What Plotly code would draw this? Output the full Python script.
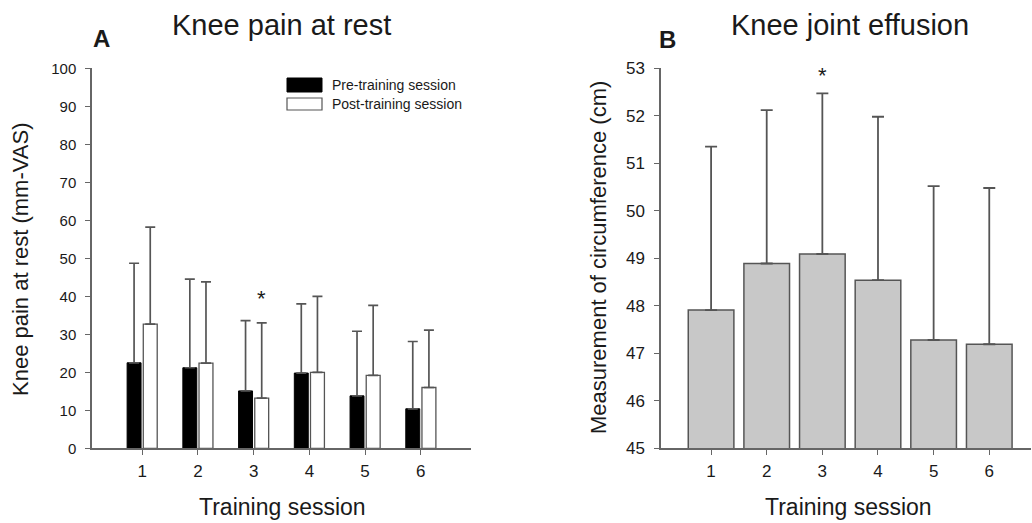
import plotly.graph_objects as go

# ---- data ----
sessions = [1, 2, 3, 4, 5, 6]
session_labels = ["1", "2", "3", "4", "5", "6"]

pain_pre = [22.5, 21.2, 15.1, 19.8, 13.8, 10.4]
pain_pre_sd = [26.2, 23.3, 18.5, 18.2, 17.0, 17.7]
pain_post = [32.7, 22.4, 13.2, 20.0, 19.2, 16.0]
pain_post_sd = [25.5, 21.4, 19.8, 20.0, 18.4, 15.1]

circ = [47.91, 48.89, 49.09, 48.54, 47.28, 47.19]
circ_sd = [3.44, 3.23, 3.38, 3.44, 3.24, 3.29]

zeros = [0] * 6

W, H = 1032, 523
FONT = "Liberation Sans, Arial, sans-serif"
AXC = "#666666"
TXT = "#1a1a1a"
ERR = "#555555"


def px(x):
    return x / W


def py(y):
    return 1 - y / H


fig = go.Figure()

fig.add_trace(go.Bar(
    x=sessions, y=pain_pre, width=0.25, offset=-0.27,
    marker=dict(color="black", line=dict(color="black", width=1)),
    error_y=dict(type="data", array=pain_pre_sd, arrayminus=zeros, symmetric=False,
                 color=ERR, thickness=1.7, width=5),
    name="Pre-training session", xaxis="x", yaxis="y", showlegend=False,
))
fig.add_trace(go.Bar(
    x=sessions, y=pain_post, width=0.25, offset=0.02,
    marker=dict(color="white", line=dict(color=ERR, width=1.3)),
    error_y=dict(type="data", array=pain_post_sd, arrayminus=zeros, symmetric=False,
                 color=ERR, thickness=1.7, width=5),
    name="Post-training session", xaxis="x", yaxis="y", showlegend=False,
))
fig.add_trace(go.Bar(
    x=sessions, y=circ, width=0.82,
    marker=dict(color="#c8c8c8", line=dict(color=ERR, width=1.5)),
    error_y=dict(type="data", array=circ_sd, arrayminus=zeros, symmetric=False,
                 color=ERR, thickness=1.8, width=6),
    xaxis="x2", yaxis="y2", showlegend=False,
))

axis_common = dict(
    showline=True, linecolor=AXC, linewidth=1.5, ticks="outside", ticklen=5,
    tickcolor=AXC, tickwidth=1.2, showgrid=False, zeroline=False, automargin=False,
)


def tf(size):
    return dict(family=FONT, size=size, color=TXT)


ydom = [py(448.3), py(68.3)]

fig.update_layout(
    width=W, height=H, autosize=False,
    margin=dict(l=0, r=0, t=0, b=0, pad=0),
    paper_bgcolor="white", plot_bgcolor="white",
    barmode="overlay",
    font=dict(family=FONT, color=TXT),
    xaxis=dict(domain=[px(92), px(471)], range=[0.1, 6.9], tickvals=sessions,
               ticktext=session_labels, anchor="y", tickfont=tf(17),
               ticklabelstandoff=2, **axis_common),
    yaxis=dict(domain=ydom, range=[0, 100], dtick=10, anchor="x", tickfont=tf(15),
               ticklabelstandoff=6, **axis_common),
    xaxis2=dict(domain=[px(661), px(1031)], range=[0.1, 6.75], tickvals=sessions,
                ticktext=session_labels, anchor="y2", tickfont=tf(17),
                ticklabelstandoff=2, **axis_common),
    yaxis2=dict(domain=ydom, range=[45, 53], dtick=1, anchor="x2", tickfont=tf(17),
                ticklabelstandoff=6, **axis_common),
)


def note(text, x, y, size, angle=0, xanchor="center", ref="paper"):
    if ref == "paper":
        xx, yy, xr, yr = px(x), py(y), "paper", "paper"
    else:
        xx, yy, xr, yr = x, y, ref[0], ref[1]
    return dict(text=text, x=xx, y=yy, xref=xr, yref=yr, xanchor=xanchor,
                yanchor="middle", showarrow=False, textangle=angle,
                font=dict(size=size, family=FONT, color=TXT))


ann = [
    note("Knee pain at rest", 281, 25, 29),
    note("Knee joint effusion", 850, 25, 29),
    note("<b>A</b>", 101, 38, 24),
    note("<b>B</b>", 667, 40, 24),
    note("Knee pain at rest (mm-VAS)", 20, 260, 22, angle=-90),
    note("Measurement of circumference (cm)", 598, 258, 22, angle=-90),
    note("Training session", 282, 507, 23),
    note("Training session", 848, 507, 23),
    note("Pre-training session", 330, 85, 14, xanchor="left"),
    note("Post-training session", 330, 104, 14, xanchor="left"),
    note("*", 3.145, 39.5, 22, ref=("x", "y")),
    note("*", 3, 52.85, 22, ref=("x2", "y2")),
]
fig.update_layout(annotations=ann)

# legend swatches
fig.add_shape(type="rect", xref="paper", yref="paper", x0=px(287), x1=px(322),
              y0=py(92), y1=py(78), fillcolor="black", line=dict(color="black", width=1))
fig.add_shape(type="rect", xref="paper", yref="paper", x0=px(287), x1=px(322),
              y0=py(110), y1=py(98), fillcolor="white", line=dict(color=ERR, width=1.2))

pin_js = (
    "document.documentElement.style.margin='0';"
    "document.documentElement.style.overflow='hidden';"
    "document.body.style.margin='0';"
    "document.body.style.overflow='hidden';"
    "document.body.style.height='523px';"
    "var gd=document.getElementsByClassName('plotly-graph-div')[0];"
    "gd.style.position='fixed';gd.style.left='0px';gd.style.top='0px';"
)

fig.write_html("out.html", config={"displayModeBar": False}, post_script=pin_js)
